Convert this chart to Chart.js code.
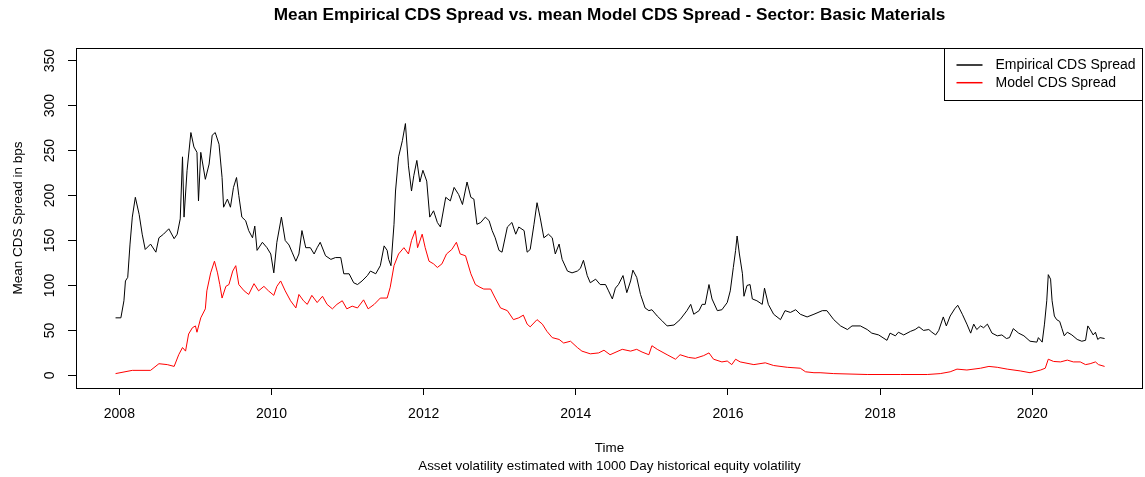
<!DOCTYPE html>
<html>
<head>
<meta charset="utf-8">
<title>Mean Empirical CDS Spread vs. mean Model CDS Spread</title>
<script src="https://cdn.jsdelivr.net/npm/chart.js@4/dist/chart.umd.min.js"></script>
<style>
    html, body { margin: 0; padding: 0; background: #fff; }
    #wrap { width: 1145px; height: 477px; }
</style>
</head>
<body>
<div id="wrap"><canvas id="cds-chart" width="1145" height="477"></canvas></div>
<script>
// values (decimal years / bps)
var empYears = [
    2007.95, 2008.02, 2008.06, 2008.08, 2008.11, 2008.14, 2008.17, 2008.21, 2008.26, 2008.30, 2008.34, 2008.41, 2008.48, 2008.52, 2008.58, 2008.65, 2008.72, 2008.76, 2008.80, 2008.83, 2008.85, 2008.89, 2008.94, 2008.98,
    2009.02, 2009.04, 2009.07, 2009.13, 2009.18, 2009.22, 2009.26, 2009.31, 2009.35, 2009.37, 2009.42, 2009.46, 2009.50, 2009.54, 2009.57, 2009.61, 2009.66, 2009.70, 2009.75, 2009.78, 2009.81, 2009.88, 2009.94, 2009.99,
    2010.03, 2010.07, 2010.13, 2010.18, 2010.23, 2010.27, 2010.32, 2010.36, 2010.40, 2010.45, 2010.51, 2010.56, 2010.60, 2010.64, 2010.71, 2010.78, 2010.84, 2010.91, 2010.95,
    2011.02, 2011.08, 2011.13, 2011.19, 2011.26, 2011.30, 2011.37, 2011.43, 2011.48, 2011.52, 2011.54, 2011.57, 2011.61, 2011.63, 2011.67, 2011.72, 2011.76, 2011.80, 2011.84, 2011.87, 2011.91, 2011.95, 2011.99,
    2012.04, 2012.08, 2012.13, 2012.18, 2012.22, 2012.29, 2012.35, 2012.40, 2012.46, 2012.51, 2012.57, 2012.62, 2012.66, 2012.70, 2012.75, 2012.81, 2012.86, 2012.90, 2012.94, 2012.99,
    2013.03, 2013.10, 2013.16, 2013.21, 2013.25, 2013.32, 2013.36, 2013.40, 2013.45, 2013.49, 2013.53, 2013.58, 2013.64, 2013.69, 2013.73, 2013.78, 2013.82, 2013.89, 2013.95,
    2014.02, 2014.06, 2014.10, 2014.15, 2014.19, 2014.26, 2014.32, 2014.39, 2014.43, 2014.48, 2014.52, 2014.56, 2014.62, 2014.67, 2014.72, 2014.75, 2014.80, 2014.85, 2014.91, 2014.96,
    2015.00, 2015.07, 2015.13, 2015.20, 2015.29, 2015.37, 2015.46, 2015.51, 2015.55, 2015.62, 2015.66, 2015.70, 2015.75, 2015.79, 2015.86, 2015.92, 2015.99,
    2016.03, 2016.07, 2016.10, 2016.12, 2016.15, 2016.19, 2016.21, 2016.25, 2016.29, 2016.32, 2016.38, 2016.45, 2016.48, 2016.53, 2016.60, 2016.69, 2016.75, 2016.82, 2016.89, 2016.95,
    2017.04, 2017.13, 2017.24, 2017.30, 2017.39, 2017.48, 2017.57, 2017.63, 2017.74, 2017.83, 2017.89, 2017.98,
    2018.09, 2018.13, 2018.20, 2018.24, 2018.31, 2018.40, 2018.46, 2018.51, 2018.57, 2018.64, 2018.68, 2018.73, 2018.77, 2018.83, 2018.87, 2018.92, 2018.98,
    2019.02, 2019.08, 2019.14, 2019.19, 2019.23, 2019.27, 2019.32, 2019.36, 2019.41, 2019.47, 2019.54, 2019.60, 2019.66, 2019.70, 2019.75, 2019.82, 2019.89, 2019.97,
    2020.06, 2020.08, 2020.13, 2020.16, 2020.19, 2020.21, 2020.24, 2020.26, 2020.29, 2020.32, 2020.36, 2020.39, 2020.42, 2020.46, 2020.52, 2020.59, 2020.65, 2020.70, 2020.73, 2020.76, 2020.80, 2020.83, 2020.86, 2020.89, 2020.95
];
var empValues = [
    64, 64, 83, 105, 109, 146, 176, 198, 179, 157, 140, 146, 137, 153, 157, 163, 152, 157, 174, 243, 176, 228, 270, 254,
    248, 194, 248, 218, 235, 267, 270, 257, 220, 187, 196, 187, 209, 220, 200, 176, 172, 161, 153, 166, 139, 148, 142, 135,
    114, 148, 176, 150, 145, 137, 127, 135, 161, 142, 142, 135, 142, 148, 133, 129, 131, 131, 113,
    113, 103, 101, 105, 111, 116, 113, 122, 144, 139, 129, 122, 168, 205, 243, 261, 280, 233, 205, 222, 239, 215, 228,
    216, 176, 183, 170, 165, 198, 194, 209, 201, 190, 215, 198, 196, 168, 170, 176, 172, 161, 153, 139,
    137, 165, 170, 157, 165, 161, 137, 140, 168, 192, 176, 153, 157, 153, 135, 146, 129, 116, 114,
    116, 119, 128, 111, 103, 107, 101, 101, 94, 85, 97, 101, 111, 92, 105, 117, 109, 90, 75, 72,
    73, 66, 61, 55, 56, 62, 72, 79, 68, 72, 79, 79, 101, 85, 72, 73, 81,
    94, 120, 139, 155, 135, 113, 88, 100, 101, 85, 83, 79, 97, 79, 68, 62, 72, 70, 73, 68,
    65, 68, 72, 72, 62, 55, 51, 55, 55, 51, 47, 45,
    39, 47, 44, 48, 45, 49, 51, 54, 50, 51, 48, 45, 50, 65, 55, 66, 74,
    78, 68, 57, 47, 57, 51, 55, 53, 57, 47, 44, 45, 41, 42, 52, 47, 44, 38,
    37, 42, 37, 57, 83, 112, 107, 83, 66, 62, 60, 52, 44, 48, 45, 40, 38, 39, 55, 51, 45, 48, 40, 42, 41
];
var modelYears = [
    2007.95, 2008.17, 2008.41, 2008.52, 2008.63, 2008.72, 2008.78, 2008.83, 2008.87, 2008.91, 2008.96,
    2009.00, 2009.02, 2009.07, 2009.13, 2009.15, 2009.20, 2009.25, 2009.29, 2009.32, 2009.35, 2009.40, 2009.44, 2009.49, 2009.53, 2009.57, 2009.64, 2009.70, 2009.77, 2009.83, 2009.90, 2009.96,
    2010.03, 2010.07, 2010.12, 2010.18, 2010.25, 2010.32, 2010.36, 2010.42, 2010.47, 2010.53, 2010.60, 2010.67, 2010.73, 2010.80, 2010.86, 2010.93, 2010.99,
    2011.06, 2011.13, 2011.21, 2011.27, 2011.35, 2011.43, 2011.52, 2011.56, 2011.61, 2011.67, 2011.74, 2011.80, 2011.84, 2011.89, 2011.92, 2011.98,
    2012.02, 2012.07, 2012.13, 2012.18, 2012.24, 2012.30, 2012.37, 2012.43, 2012.48, 2012.55, 2012.62, 2012.68, 2012.74, 2012.79, 2012.88, 2012.94,
    2013.01, 2013.10, 2013.18, 2013.25, 2013.31, 2013.36, 2013.40, 2013.49, 2013.56, 2013.62, 2013.69, 2013.78, 2013.84, 2013.93,
    2014.02, 2014.08, 2014.19, 2014.30, 2014.37, 2014.45, 2014.61, 2014.72, 2014.80, 2014.87, 2014.96,
    2015.00, 2015.07, 2015.20, 2015.31, 2015.37, 2015.48, 2015.57, 2015.68, 2015.75, 2015.81, 2015.92, 2015.99,
    2016.05, 2016.10, 2016.16, 2016.34, 2016.49, 2016.60, 2016.78, 2016.95,
    2017.02, 2017.13, 2017.21, 2017.39, 2017.83,
    2018.27, 2018.62, 2018.79, 2018.92,
    2019.01, 2019.14, 2019.32, 2019.43, 2019.54, 2019.67, 2019.84, 2019.97,
    2020.11, 2020.17, 2020.21, 2020.28, 2020.37, 2020.46, 2020.54, 2020.63, 2020.70, 2020.76, 2020.83, 2020.87, 2020.95
];
var modelValues = [
    2, 5.6, 5.6, 13, 12, 10, 23, 31, 27, 46, 53,
    55, 48, 64, 74, 94, 114, 127, 114, 101, 86, 99, 101, 116, 122, 101, 94, 90, 102, 94, 99, 94,
    89, 99, 105, 94, 83, 75, 90, 83, 79, 89, 81, 88, 79, 74, 79, 83, 74,
    77, 75, 84, 74, 79, 86, 86, 98, 122, 135, 142, 135, 150, 161, 142, 157,
    142, 127, 124, 120, 124, 135, 140, 148, 135, 133, 113, 101, 98, 96, 96, 86,
    75, 72, 62, 64, 67, 57, 54, 62, 57, 49, 42, 40, 36, 38,
    31, 27, 24, 25, 28, 23, 29, 27, 29, 26, 23,
    33, 29, 23, 18, 23, 20, 19, 22, 25, 18, 15, 16,
    12, 18, 15, 12, 14, 11, 9, 8,
    4, 3, 3, 2, 1,
    1, 1, 2, 4,
    7, 6, 8, 10, 9, 7, 5, 3,
    6, 8, 18, 15.5, 15, 17, 15, 15, 12, 13, 15, 12, 10
];
var xTicks = [2008, 2010, 2012, 2014, 2016, 2018, 2020];
var yTicks = [0, 50, 100, 150, 200, 250, 300, 350];

var sTitle = 'Mean Empirical CDS Spread vs. mean Model CDS Spread - Sector: Basic Materials';
var sFont = "'Liberation Sans', Arial, Helvetica, sans-serif";

function toPoints(aX, aY) {
    var aOut = [];
    for (var i = 0; i < aX.length; i++) {
        aOut.push({ x: aX[i], y: aY[i] });
    }
    return aOut;
}

// R style frame, title over the plot region, rotated y tick labels and the boxed legend
var rStylePlugin = {
    id: 'rStyle',
    beforeDraw: function(chart) {
        var ctx = chart.ctx;
        ctx.save();
        ctx.fillStyle = '#fff';
        ctx.fillRect(0, 0, chart.width, chart.height);
        ctx.restore();
    },
    afterDraw: function(chart) {
        var ctx = chart.ctx;
        var area = chart.chartArea;
        var yScale = chart.scales.y;

        ctx.save();
        ctx.strokeStyle = '#000';
        ctx.lineWidth = 1;
        ctx.strokeRect(Math.round(area.left) + 0.5, Math.round(area.top) + 0.5,
            Math.round(area.right - area.left) - 1, Math.round(area.bottom - area.top));

        ctx.fillStyle = '#000';
        ctx.textAlign = 'center';
        ctx.textBaseline = 'middle';
        ctx.font = 'bold 17.2px ' + sFont;
        ctx.fillText(sTitle, (area.left + area.right) / 2, 15);

        ctx.font = '14px ' + sFont;
        yTicks.forEach(function(v) {
            var y = yScale.getPixelForValue(v);
            ctx.save();
            ctx.translate(area.left - 26, y);
            ctx.rotate(-Math.PI / 2);
            ctx.fillText(String(v), 0, 0);
            ctx.restore();
        });

        // legend
        var boxW = 198, boxH = 52;
        var bx = Math.round(area.right) - boxW - 0.5;
        var by = Math.round(area.top) + 0.5;
        ctx.fillStyle = '#fff';
        ctx.fillRect(bx, by, boxW, boxH);
        ctx.strokeStyle = '#000';
        ctx.strokeRect(bx, by, boxW, boxH);
        ctx.textAlign = 'left';
        chart.data.datasets.forEach(function(ds, i) {
            var ly = by + 16.5 + i * 17.7;
            ctx.strokeStyle = ds.borderColor;
            ctx.lineWidth = 1.5;
            ctx.beginPath();
            ctx.moveTo(bx + 12, ly);
            ctx.lineTo(bx + 38, ly);
            ctx.stroke();
            ctx.fillStyle = '#000';
            ctx.fillText(ds.label, bx + 51, ly + 0.5);
        });
        ctx.restore();
    }
};

var oChart = new Chart(document.getElementById('cds-chart'), {
    type: 'line',
    data: {
        datasets: [
            {
                label: 'Empirical CDS Spread',
                data: toPoints(empYears, empValues),
                borderColor: '#000000',
                borderWidth: 1,
                pointRadius: 0,
                tension: 0,
                fill: false
            }, {
                label: 'Model CDS Spread',
                data: toPoints(modelYears, modelValues),
                borderColor: '#ff0000',
                borderWidth: 1,
                pointRadius: 0,
                tension: 0,
                fill: false
            }
        ]
    },
    options: {
        responsive: false,
        animation: false,
        devicePixelRatio: 1,
        layout: { padding: { left: 0, right: 2, top: 48, bottom: 0 } },
        plugins: {
            legend: { display: false },
            tooltip: { enabled: false },
            title: { display: false }
        },
        scales: {
            x: {
                type: 'linear',
                min: 2007.43,
                max: 2021.455,
                afterBuildTicks: function(scale) {
                    scale.ticks = xTicks.map(function(v) { return { value: v }; });
                },
                afterFit: function(scale) { scale.height = 89; },
                border: { display: false },
                grid: { drawOnChartArea: false, drawTicks: true, tickLength: 7, color: '#000', tickColor: '#000' },
                ticks: {
                    color: '#000',
                    padding: 11,
                    maxRotation: 0,
                    font: { family: sFont, size: 14 },
                    callback: function(v) { return String(v); }
                },
                title: {
                    display: true,
                    text: ['Time', 'Asset volatility estimated with 1000 Day historical equity volatility'],
                    color: '#000',
                    font: { family: sFont, size: 13.4, lineHeight: 18 / 13.4 },
                    padding: { top: 0, bottom: 2 }
                }
            },
            y: {
                type: 'linear',
                min: -14,
                max: 364,
                afterBuildTicks: function(scale) {
                    scale.ticks = yTicks.map(function(v) { return { value: v }; });
                },
                afterFit: function(scale) { scale.width = 76; },
                border: { display: false },
                grid: { drawOnChartArea: false, drawTicks: true, tickLength: 8, color: '#000', tickColor: '#000' },
                ticks: { display: false },
                title: {
                    display: true,
                    text: 'Mean CDS Spread in bps',
                    color: '#000',
                    font: { family: sFont, size: 13.5, lineHeight: 1.2 },
                    padding: { top: 10, bottom: 0 }
                }
            }
        }
    },
    plugins: [rStylePlugin]
});
</script>
</body>
</html>
